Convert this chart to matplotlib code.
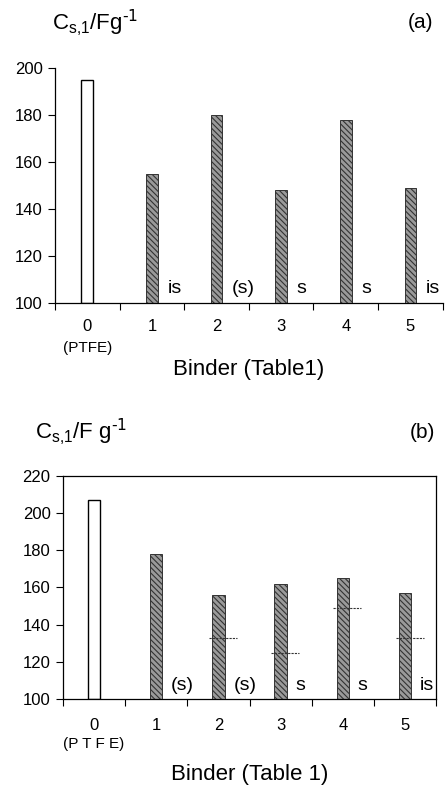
import matplotlib
matplotlib.use("Agg")
import matplotlib.pyplot as plt
import numpy as np

plt.rcParams['font.family'] = ['Liberation Sans', 'DejaVu Sans']
plt.rcParams['mathtext.default'] = 'regular'
plt.rcParams['hatch.linewidth'] = 0.8
plt.rcParams['hatch.color'] = '#222222'

binders = ["0", "1", "2", "3", "4", "5"]
sub_a = "(PTFE)"
sub_b = "(P T F E)"

cap_a = [195, 155, 180, 148, 178, 149]
notes_a = ["", "is", "(s)", "s", "s", "is"]

cap_b = [207, 178, 156, 162, 165, 157]
notes_b = ["", "(s)", "(s)", "s", "s", "is"]
dash_b = [None, None, 133, 125, 149, 133]

fig = plt.figure(figsize=(4.45, 7.96), dpi=100)

def draw(ax, vals, notes, ylim, yticks, bw):
    x = np.arange(len(vals))
    for i, v in enumerate(vals):
        if i == 0:
            ax.bar(x[i], v - ylim[0], bottom=ylim[0], width=bw, facecolor='white',
                   edgecolor='black', linewidth=1.0, zorder=2)
        else:
            ax.bar(x[i], v - ylim[0], bottom=ylim[0], width=bw, facecolor='#9a9a9a',
                   edgecolor='#333333', linewidth=0.7, hatch='\\\\\\\\\\\\', zorder=2)
        if notes[i]:
            ax.text(x[i] + 0.24, ylim[0] + 2.5, notes[i], fontsize=14,
                    ha='left', va='bottom')
    ax.set_xlim(-0.5, len(vals) - 0.5)
    ax.set_ylim(*ylim)
    ax.set_yticks(yticks)
    ax.set_xticks(np.arange(-0.5, len(vals)), minor=False)
    ax.set_xticklabels([])
    ax.tick_params(axis='x', direction='out', length=5, width=0.8)
    ax.tick_params(axis='y', direction='out', length=5, width=0.8, labelsize=12, pad=4)
    for sp in ax.spines.values():
        sp.set_linewidth(0.9)
    return x

title_a = "C$_{s{,}1}$/Fg$^{\\text{-1}}$"
title_b = "C$_{s{,}1}$/F g$^{\\text{-1}}$"

# Panel (a)
ax1 = fig.add_axes([0.1236, 0.6194, 0.8713, 0.2952])
x = draw(ax1, cap_a, notes_a, (100, 200), [100, 120, 140, 160, 180, 200], 0.18)
ax1.spines['top'].set_visible(False)
ax1.spines['right'].set_visible(False)
for i, lab in enumerate(binders):
    ax1.text(x[i], -0.10, lab, transform=ax1.get_xaxis_transform(), ha='center',
             va='center', fontsize=12)
ax1.text(x[0], -0.19, sub_a, transform=ax1.get_xaxis_transform(), ha='center',
         va='center', fontsize=11)
ax1.text(0.5, -0.285, "Binder (Table1)", transform=ax1.transAxes, ha='center',
         va='center', fontsize=16)
fig.text(52 / 445, 1 - 23 / 796, title_a, ha='left', va='center', fontsize=16)
fig.text(433 / 445, 1 - 23 / 796, "(a)", ha='right', va='center', fontsize=15)

# Panel (b)
ax2 = fig.add_axes([0.1416, 0.1219, 0.8382, 0.2802])
x = draw(ax2, cap_b, notes_b, (100, 220), [100, 120, 140, 160, 180, 200, 220], 0.2)
for i, d in enumerate(dash_b):
    if d is not None:
        ax2.plot([x[i] - 0.15, x[i] + 0.3], [d, d], color='#333333', lw=0.8,
                 ls=(0, (2, 1)), zorder=3)
for i, lab in enumerate(binders):
    ax2.text(x[i], -0.12, lab, transform=ax2.get_xaxis_transform(), ha='center',
             va='center', fontsize=12)
ax2.text(x[0], -0.20, sub_b, transform=ax2.get_xaxis_transform(), ha='center',
         va='center', fontsize=11)
ax2.text(0.5, -0.34, "Binder (Table 1)", transform=ax2.transAxes, ha='center',
         va='center', fontsize=16)
fig.text(35 / 445, 1 - 432 / 796, title_b, ha='left', va='center', fontsize=16)
fig.text(435 / 445, 1 - 432 / 796, "(b)", ha='right', va='center', fontsize=15)

fig.savefig("out.png", dpi=100, facecolor='white')
